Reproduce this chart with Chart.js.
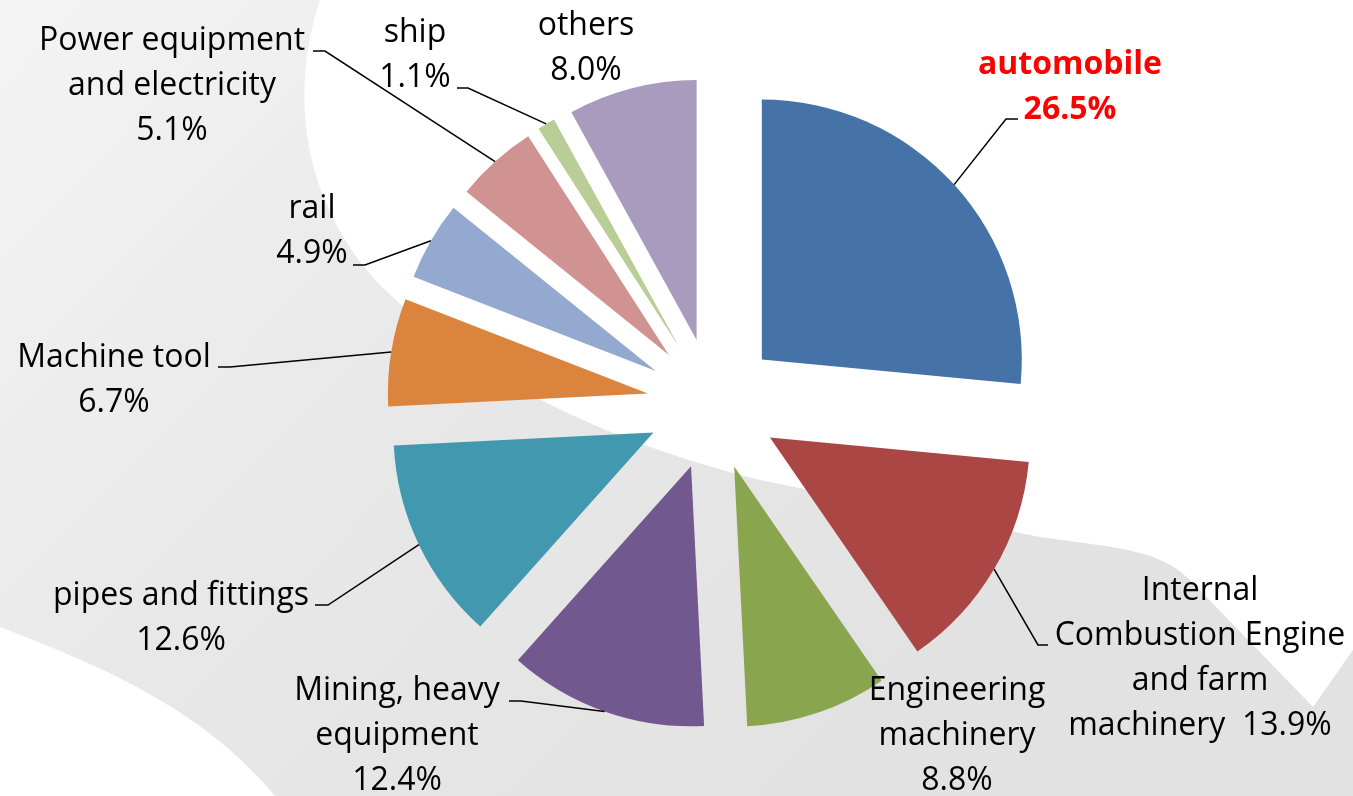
<!DOCTYPE html>
<html><head><meta charset="utf-8">
<script src="https://cdn.jsdelivr.net/npm/chart.js@4.4.1/dist/chart.umd.min.js"></script>
<style>html,body{margin:0;padding:0;background:#fff;overflow:hidden}#wrap{width:1353px;height:796px;position:relative}</style>
</head><body><div id="wrap"><canvas id="c" width="1353" height="796"></canvas></div>
<script>
// ---- data ----
const categories = ['automobile','Internal Combustion Engine and farm machinery','Engineering machinery','Mining, heavy equipment','pipes and fittings','Machine tool','rail','Power equipment and electricity','ship','others'];
const shares = [26.5, 13.9, 8.8, 12.4, 12.6, 6.7, 4.9, 5.1, 1.1, 8.0];
const sliceColors = ['#4572A7','#AA4643','#89A54E','#71588F','#4198AF','#DB843D','#93A9CF','#D19392','#B9CD96','#A99BBD'];

// ---- label layout (text wrapping and placement only) ----
const FONT_FAMILY = '"Open Sans", sans-serif';
const FONT_SIZE = 32;
const LINE_H = 45;
const labelLayout = [
  {cx:1070, y:74,  lines:['automobile','{p}'], color:'#ff0000', weight:'bold', tick:[1018,119,-12]},
  {cx:1200, y:600, lines:['Internal','Combustion Engine','and farm','machinery  {p}'], tick:[1048,645,-10]},
  {cx:957,  y:700, lines:['Engineering','machinery','{p}']},
  {cx:397,  y:700, lines:['Mining, heavy','equipment','{p}'], tick:[509,701,12]},
  {cx:181,  y:605, lines:['pipes and fittings','{p}'], tick:[315,605,13]},
  {cx:114,  y:367, lines:['Machine tool','{p}'], tick:[218,367,12]},
  {cx:312,  y:218, lines:['rail','{p}'], tick:[353,265,12]},
  {cx:172,  y:50,  lines:['Power equipment','and electricity','{p}'], tick:[313,51,12]},
  {cx:415,  y:42,  lines:['ship','{p}'], tick:[457,88,11]},
  {cx:586,  y:35,  lines:['others','{p}']}
];

const backgroundPlugin = {
  id: 'bgDecor',
  beforeDraw(chart) {
    const ctx = chart.ctx, W = chart.width, H = chart.height;
    ctx.save();
    const g = ctx.createLinearGradient(0, 0, W * 0.6, H);
    g.addColorStop(0, '#f4f4f4');
    g.addColorStop(0.5, '#e8e8e8');
    g.addColorStop(1, '#e2e2e2');
    ctx.fillStyle = g;
    ctx.fillRect(0, 0, W, H);
    ctx.fillStyle = '#ffffff';
    ctx.beginPath();
    ctx.moveTo(320, 0);
    ctx.bezierCurveTo(290, 90, 300, 200, 380, 285);
    ctx.bezierCurveTo(470, 375, 600, 440, 760, 480);
    ctx.lineTo(1040, 537);
    ctx.bezierCurveTo(1120, 548, 1160, 550, 1190, 580);
    ctx.lineTo(1313, 707);
    ctx.lineTo(1353, 650);
    ctx.lineTo(1353, 0);
    ctx.closePath();
    ctx.fill();
    ctx.beginPath();
    ctx.moveTo(0, 627);
    ctx.bezierCurveTo(90, 662, 200, 705, 275, 796);
    ctx.lineTo(0, 796);
    ctx.closePath();
    ctx.fill();
    ctx.restore();
  }
};

const explodePlugin = {
  id: 'explode',
  beforeDatasetsDraw(chart, args, opts) {
    chart.getDatasetMeta(0).data.forEach(arc => {
      if (arc._exploded) return;
      const orig = arc.draw;
      arc.draw = function (ctx, area) {
        const a = (this.startAngle + this.endAngle) / 2;
        ctx.save();
        ctx.translate(Math.cos(a) * opts.distance, Math.sin(a) * opts.distance);
        orig.call(this, ctx, area);
        ctx.restore();
      };
      arc._exploded = true;
    });
  }
};

const labelPlugin = {
  id: 'calloutLabels',
  afterDatasetsDraw(chart, args, opts) {
    const ctx = chart.ctx;
    const meta = chart.getDatasetMeta(0);
    const values = chart.data.datasets[0].data;
    ctx.save();
    meta.data.forEach((arc, i) => {
      const L = opts.layout[i];
      if (!L) return;
      const pct = values[i].toFixed(1) + '%';
      ctx.fillStyle = L.color || '#000';
      ctx.font = (L.weight || 'normal') + ' ' + FONT_SIZE + 'px ' + FONT_FAMILY;
      ctx.textAlign = 'center';
      ctx.textBaseline = 'alphabetic';
      L.lines.forEach((ln, k) => {
        ctx.fillText(ln.replace('{p}', pct), L.cx, L.y + k * LINE_H);
      });
      if (L.tick) {
        const a = (arc.startAngle + arc.endAngle) / 2;
        const r = arc.outerRadius + opts.distance;
        const px = arc.x + Math.cos(a) * r, py = arc.y + Math.sin(a) * r;
        ctx.strokeStyle = '#000';
        ctx.lineWidth = 1.5;
        ctx.beginPath();
        ctx.moveTo(L.tick[0], L.tick[1]);
        ctx.lineTo(L.tick[0] + L.tick[2], L.tick[1]);
        ctx.lineTo(px, py);
        ctx.stroke();
      }
    });
    ctx.restore();
  }
};

new Chart(document.getElementById('c'), {
  type: 'pie',
  data: {
    labels: categories,
    datasets: [{
      data: shares,
      backgroundColor: sliceColors,
      borderWidth: 0,
      radius: 260
    }]
  },
  options: {
    responsive: false,
    animation: false,
    events: [],
    layout: {padding: {left: 73, right: 0, top: 12, bottom: 0}},
    plugins: {
      legend: {display: false},
      tooltip: {enabled: false},
      explode: {distance: 66},
      calloutLabels: {distance: 66, layout: labelLayout}
    }
  },
  plugins: [backgroundPlugin, explodePlugin, labelPlugin]
});
</script>
</body></html>
